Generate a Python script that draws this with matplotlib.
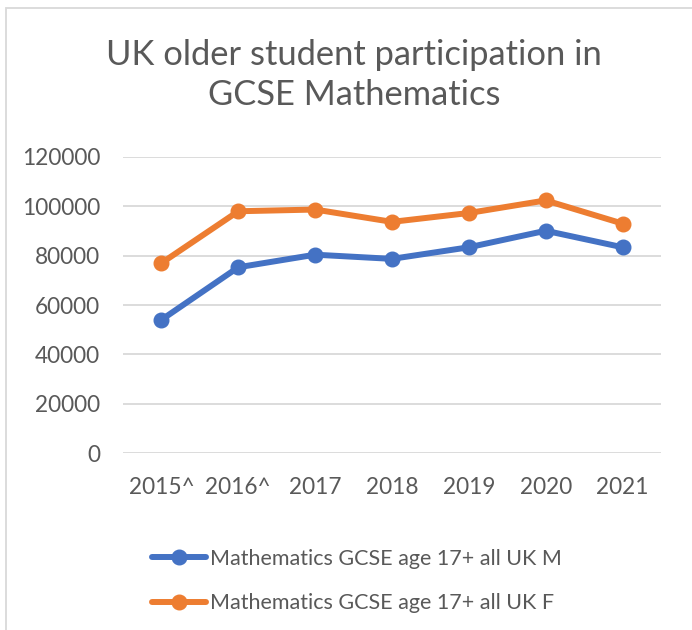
import matplotlib.pyplot as plt
from matplotlib.patches import Rectangle

# GCSE Mathematics entries, age 17+, all UK
years = ["2015^", "2016^", "2017", "2018", "2019", "2020", "2021"]
male = [54000, 75300, 80400, 78700, 83400, 90100, 83400]
female = [77000, 98000, 98700, 93700, 97300, 102400, 93000]
yticks = [0, 20000, 40000, 60000, 80000, 100000, 120000]

series_labels = ["Mathematics GCSE age 17+ all UK M",
                 "Mathematics GCSE age 17+ all UK F"]
BLUE = "#4472C4"
ORANGE = "#ED7D31"
TEXT = "#595959"
GRID = "#D9D9D9"
FS = 16.3

plt.rcParams['font.family'] = ['Lato', 'DejaVu Sans']

fig = plt.figure(figsize=(6.92, 6.30), dpi=100)
ax = fig.add_axes([123 / 692, 1 - 453 / 630, 538 / 692, 296 / 630])

x = range(len(years))
ax.plot(x, male, color=BLUE, lw=4.3, marker="o", ms=10.5,
        solid_capstyle="round", label=series_labels[0], zorder=3)
ax.plot(x, female, color=ORANGE, lw=4.3, marker="o", ms=10.5,
        solid_capstyle="round", label=series_labels[1], zorder=3)

ax.set_xlim(-0.5, len(years) - 0.5)
ax.set_ylim(0, 120000)
ax.set_yticks(yticks)
ax.set_yticklabels([str(v) for v in yticks])
ax.set_xticks(list(x))
ax.set_xticklabels(years)
ax.yaxis.grid(True, color=GRID, lw=1.3)
ax.set_axisbelow(True)
for s in ax.spines.values():
    s.set_visible(False)
ax.tick_params(axis="both", length=0, labelsize=FS, labelcolor=TEXT)
ax.tick_params(axis="y", pad=16.5)
ax.tick_params(axis="x", pad=17)

# chart-area outline (only top and left edges fall inside the image)
fig.add_artist(Rectangle((6 / 692, -0.1), 1.2, 1 - 8 / 630 + 0.1,
                         transform=fig.transFigure, fill=False,
                         ec=GRID, lw=1.3))

fig.text(354 / 692, 1 - 75 / 630,
         "UK older student participation in\nGCSE Mathematics",
         ha="center", va="center", fontsize=24.8, color=TEXT,
         linespacing=1.3)

leg = fig.legend(loc="center left", bbox_to_anchor=(152 / 692, 1 - 581 / 630),
                 frameon=False, fontsize=15.5, handlelength=2.5,
                 handletextpad=0.2, labelspacing=1.15, borderaxespad=0,
                 borderpad=0)
for t in leg.get_texts():
    t.set_color(TEXT)

fig.savefig("out.png", dpi=100, facecolor="white")
